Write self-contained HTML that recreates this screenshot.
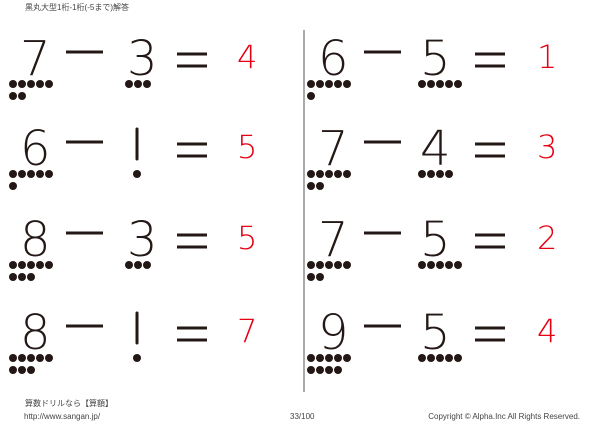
<!DOCTYPE html>
<html><head><meta charset="utf-8"><style>
html,body{margin:0;padding:0;background:#fff;width:600px;height:422px;overflow:hidden}
svg{display:block}
.d{font-family:"DejaVu Sans ExtraLight","DejaVu Sans Light","Liberation Sans",sans-serif;font-weight:200;font-size:48px;fill:#231815}
.r{font-family:"DejaVu Sans ExtraLight","DejaVu Sans Light","Liberation Sans",sans-serif;font-weight:200;font-size:32px;fill:#e60012}
.s{font-family:"Liberation Sans","Noto Sans CJK JP",sans-serif;font-size:8px;fill:#444}
</style></head><body>
<svg width="600" height="422" viewBox="0 0 600 422" xmlns="http://www.w3.org/2000/svg">
<text class="s" x="25" y="10">黒丸大型1桁-1桁(-5まで)解答</text>
<line x1="304" y1="30" x2="304" y2="392" stroke="#555" stroke-width="1"/>
<g id="content"></g>
<text class="s" x="25" y="406">算数ドリルなら【算額】</text>
<text class="s" x="24" y="419">http://www.sangan.jp/</text>
<text class="s" x="290" y="419">33/100</text>
<text class="s" x="580" y="419" text-anchor="end">Copyright © Alpha.Inc All Rights Reserved.</text>
</svg>
<script>
var data=[[7,3,4,6,5,1],[6,1,5,7,4,3],[8,3,5,7,5,2],[8,1,7,9,5,4]];
var tops=[39,129,220,313];
var g=document.getElementById('content');var h='';
function dots(x,y,n){var s='';for(var i=0;i<n;i++){var r=Math.floor(i/5),c=i%5;s+='<circle cx="'+(x+c*9)+'" cy="'+(y+r*12)+'" r="4" fill="#231815"/>';}return s;}
for(var i=0;i<4;i++){var t=tops[i],d=data[i];
 [[0,12,125,237],[3,310,418,537]].forEach(function(c){
  var o=c[0],X=c[1],X2=c[2],XR=c[3];var a=d[o],b=d[o+1],r=d[o+2];
  h+='<text class="d" x="'+(X+8)+'" y="'+(t+36)+'">'+a+'</text>';
  h+=dots(X+1,t+45,a);
  h+='<line x1="'+(X+54)+'" y1="'+(t+13)+'" x2="'+(X+91)+'" y2="'+(t+13)+'" stroke="#231815" stroke-width="3"/>';
  if(b==1){h+='<line x1="'+(X2+12)+'" y1="'+t+'" x2="'+(X2+12)+'" y2="'+(t+30)+'" stroke="#231815" stroke-width="3" stroke-linecap="round"/><circle cx="'+(X2+12)+'" cy="'+(t+45)+'" r="4" fill="#231815"/>';}
  else{h+='<text class="d" x="'+(X2+2)+'" y="'+(t+36)+'">'+b+'</text>';h+=dots(X2+4,t+45,b);}
  h+='<line x1="'+(X+165)+'" y1="'+(t+15)+'" x2="'+(X+195)+'" y2="'+(t+15)+'" stroke="#231815" stroke-width="3"/>';
  h+='<line x1="'+(X+165)+'" y1="'+(t+27)+'" x2="'+(X+195)+'" y2="'+(t+27)+'" stroke="#231815" stroke-width="3"/>';
  h+='<text class="r" x="'+XR+'" y="'+(t+29)+'">'+r+'</text>';
 });}
g.innerHTML=h;
</script>
</body></html>
